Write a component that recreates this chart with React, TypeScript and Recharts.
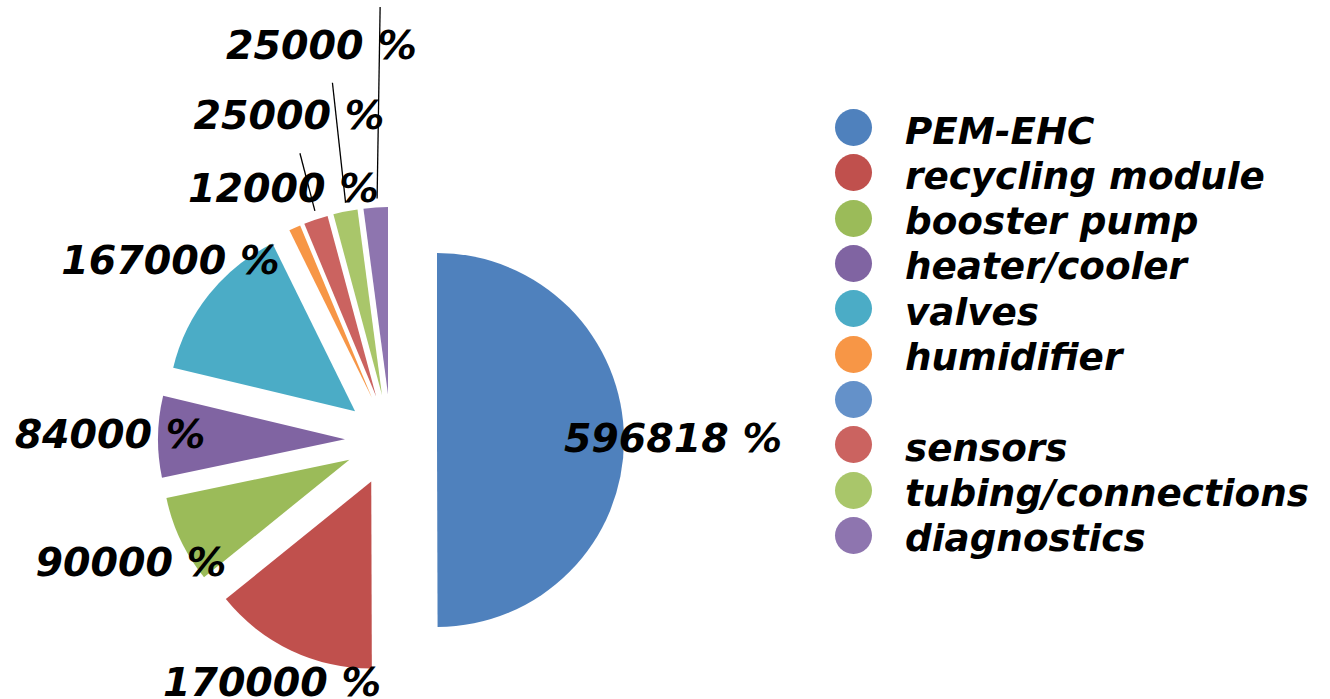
import React from 'react';
import { PieChart, Pie, Cell, Sector, Legend } from 'recharts';

const categories = [
  'PEM-EHC',
  'recycling module',
  'booster pump',
  'heater/cooler',
  'valves',
  'humidifier',
  '',
  'sensors',
  'tubing/connections',
  'diagnostics',
];
const costs = [596818, 170000, 90000, 84000, 167000, 12000, 0, 25000, 25000, 25000];
const colors = [
  '#4F81BD', '#C0504D', '#9BBB59', '#8064A2', '#4BACC6',
  '#F79646', '#6491C9', '#CB6360', '#A9C66A', '#8E75AF',
];
// label placement (layout only): distance from pie centre and a small horizontal nudge
const labelDistance = [282, 270, 288, 281, 285, 275, 0, 341, 401, 470];
const labelNudgeX = [0, -3, 0, 0, 2, 6, 0, 8, 9, 9];
const hasLeader = [false, false, false, false, false, false, false, true, true, true];

const data = categories.map((name, i) => ({ name, value: costs[i] }));

const RAD = Math.PI / 180;
const EXPLODE = 46;
const FONT = '"DejaVu Sans", Verdana, sans-serif';

function ExplodedSector(props: any) {
  const { cx, cy, midAngle, innerRadius, outerRadius, startAngle, endAngle, fill } = props;
  const dx = EXPLODE * Math.cos(-midAngle * RAD);
  const dy = EXPLODE * Math.sin(-midAngle * RAD);
  return (
    <Sector
      cx={cx + dx}
      cy={cy + dy}
      innerRadius={innerRadius}
      outerRadius={outerRadius}
      startAngle={startAngle}
      endAngle={endAngle}
      fill={fill}
      stroke="none"
    />
  );
}

function renderLabel(props: any) {
  const { cx, cy, midAngle, index, value, outerRadius } = props;
  if (!value) return null;
  const d = labelDistance[index];
  const c = Math.cos(-midAngle * RAD);
  const s = Math.sin(-midAngle * RAD);
  const x = cx + d * c + labelNudgeX[index];
  const y = cy + d * s;
  const rEnd = outerRadius + EXPLODE + 9;
  return (
    <g key={`lbl-${index}`}>
      {hasLeader[index] && (
        <line x1={x + 11} y1={y + 36} x2={cx + rEnd * c + 2} y2={cy + rEnd * s} stroke="#000" strokeWidth={1.3} />
      )}
      <text
        x={x}
        y={y - 2}
        textAnchor="middle"
        dominantBaseline="central"
        fontFamily={FONT}
        fontWeight="bold"
        fontStyle="italic"
        fontSize={39.5}
        fill="#000"
      >
        {`${value} %`}
      </text>
    </g>
  );
}

function renderLegend(props: any) {
  const payload = props.payload || [];
  const ordered = categories.map((name, i) => {
    const found = payload.find((p: any) => p.value === name);
    return { value: name, color: (found && found.color) || colors[i] };
  });
  return (
    <div style={{ fontFamily: FONT, fontWeight: 'bold', fontStyle: 'italic', fontSize: 37.3, color: '#000' }}>
      {ordered.map((entry: any, i: number) => (
        <div key={i} style={{ display: 'flex', alignItems: 'center', height: 45.33 }}>
          <span
            style={{
              width: 37,
              height: 37,
              borderRadius: '50%',
              background: entry.color,
              flex: 'none',
              marginLeft: 0.5,
            }}
          />
          <span style={{ marginLeft: 33.5, lineHeight: '45.33px', position: 'relative', top: 3.5, whiteSpace: 'nowrap' }}>
            {entry.value}
          </span>
        </div>
      ))}
    </div>
  );
}

export default function App() {
  return (
    <div style={{ position: 'absolute', left: 0, top: 0, width: 1330, height: 699, background: '#fff' }}>
      <PieChart width={1330} height={699} margin={{ top: 0, right: 0, bottom: 0, left: 0 }}>
        <Pie
          data={data}
          dataKey="value"
          nameKey="name"
          cx={391}
          cy={440}
          outerRadius={187}
          startAngle={90}
          endAngle={-270}
          stroke="none"
          shape={ExplodedSector}
          label={renderLabel}
          labelLine={false}
          isAnimationActive={false}
        >
          {data.map((_, i) => (
            <Cell key={i} fill={colors[i]} />
          ))}
        </Pie>
        <Legend
          layout="vertical"
          align="right"
          verticalAlign="top"
          content={renderLegend}
          wrapperStyle={{ position: 'absolute', left: 834, top: 105, width: 490 }}
        />
      </PieChart>
    </div>
  );
}
